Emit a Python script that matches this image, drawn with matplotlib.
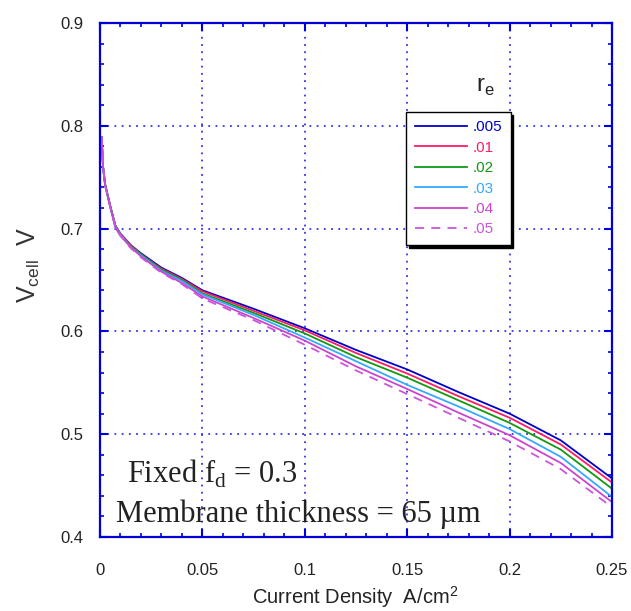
import matplotlib
matplotlib.use("Agg")
import matplotlib.pyplot as plt

plt.rcParams['font.family'] = ['Liberation Sans', 'DejaVu Sans']
plt.rcParams['mathtext.fontset'] = 'custom'
plt.rcParams['mathtext.rm'] = 'Liberation Serif'
plt.rcParams['mathtext.sf'] = 'Liberation Sans'

# current density (A/cm^2)
current = [0.0008, 0.0015, 0.0025, 0.005, 0.0075, 0.01, 0.015, 0.02, 0.03, 0.04,
           0.05, 0.075, 0.1, 0.125, 0.15, 0.175, 0.2, 0.225, 0.25]

# cell voltage (V) for each r_e
v_005 = [0.789, 0.760, 0.743, 0.722, 0.703, 0.695, 0.684, 0.676, 0.662, 0.652,
         0.640, 0.622, 0.603, 0.582, 0.563, 0.541, 0.520, 0.494, 0.457]
v_01 = [0.789, 0.760, 0.743, 0.722, 0.703, 0.695, 0.684, 0.675, 0.661, 0.651,
        0.639, 0.620, 0.601, 0.579, 0.559, 0.537, 0.516, 0.490, 0.453]
v_02 = [0.789, 0.760, 0.743, 0.722, 0.702, 0.694, 0.683, 0.675, 0.660, 0.650,
        0.637, 0.618, 0.598, 0.575, 0.555, 0.533, 0.511, 0.485, 0.447]
v_03 = [0.789, 0.760, 0.742, 0.721, 0.702, 0.694, 0.682, 0.674, 0.659, 0.649,
        0.636, 0.616, 0.594, 0.571, 0.548, 0.527, 0.505, 0.478, 0.439]
v_04 = [0.789, 0.760, 0.742, 0.721, 0.701, 0.693, 0.682, 0.673, 0.658, 0.647,
        0.634, 0.613, 0.591, 0.566, 0.544, 0.521, 0.499, 0.472, 0.434]
v_05 = [0.789, 0.760, 0.742, 0.721, 0.701, 0.693, 0.681, 0.672, 0.657, 0.646,
        0.632, 0.611, 0.587, 0.562, 0.539, 0.516, 0.493, 0.466, 0.429]

labels = ['.005', '.01', '.02', '.03', '.04', '.05']
series = [v_005, v_01, v_02, v_03, v_04, v_05]
colors = ['#0000cc', '#ff1a66', '#119911', '#33aaff', '#cc44cc', '#cc55dd']
styles = ['-', '-', '-', '-', '-', '--']

W, H = 631, 611
fig = plt.figure(figsize=(W / 100, H / 100), dpi=100)
ax = fig.add_axes([100 / W, 1 - 537 / H, 512 / W, 514 / H])

for v, lab, c, ls in zip(series, labels, colors, styles):
    line, = ax.plot(current, v, color=c, lw=1.3, ls=ls, label=lab)
    if ls == '--':
        line.set_dashes((5, 4))

ax.set_xlim(0, 0.25)
ax.set_ylim(0.4, 0.9)
ax.set_xticks([0, 0.05, 0.1, 0.15, 0.2, 0.25])
ax.set_xticklabels(['0', '0.05', '0.1', '0.15', '0.2', '0.25'])
ax.set_yticks([0.4, 0.5, 0.6, 0.7, 0.8, 0.9])
ax.set_xticks([i * 0.01 for i in range(26)], minor=True)
ax.set_yticks([0.4 + i * 0.02 for i in range(26)], minor=True)

blue = '#0000dd'
for s in ax.spines.values():
    s.set_color(blue)
    s.set_linewidth(1.6)
ax.tick_params(which='both', direction='in', top=True, right=True, color=blue)
ax.tick_params(which='major', length=6, width=1.5)
ax.tick_params(which='minor', length=3, width=1.2)
ax.tick_params(axis='x', which='major', pad=19, labelsize=12, labelcolor='#222222')
ax.tick_params(axis='y', which='major', pad=12, labelsize=12, labelcolor='#222222')
ax.grid(True, which='major', color='#3333ee', ls=(0, (1, 3)), lw=1.3)

leg = ax.legend(loc='upper left', bbox_to_anchor=(0.598, 0.827), fontsize=11,
                labelcolor='linecolor', frameon=True, fancybox=False,
                shadow={'color': 'black', 'alpha': 1}, handlelength=3.4,
                handletextpad=0.4, labelspacing=0.42, borderpad=0.55,
                borderaxespad=0)
leg.get_frame().set_edgecolor('black')
leg.get_frame().set_linewidth(1.0)

ax.text(0.753, 0.855, r'r$_{\mathsf{e}}$', transform=ax.transAxes, fontsize=17,
        ha='center', va='bottom', color='#222222')

ax.text(0.052, 0.105, r'Fixed f$_{\mathrm{d}}$ = 0.3', transform=ax.transAxes,
        fontsize=22, family='Liberation Serif', ha='left', va='baseline',
        color='#222222')
ax.text(0.032, 0.03, 'Membrane thickness = 65 µm', transform=ax.transAxes,
        fontsize=22, family='Liberation Serif', ha='left', va='baseline',
        color='#222222')

fig.text(29 / W, 1 - 265 / H, r'V$_{\mathsf{cell}}$  V', rotation=90,
         fontsize=18, ha='center', va='center', color='#333333')
fig.text(355 / W, 1 - 597 / H, r'Current Density  A/cm$^{\mathsf{2}}$',
         fontsize=14.5, ha='center', va='center', color='#222222')

fig.savefig('out.png', dpi=100)
